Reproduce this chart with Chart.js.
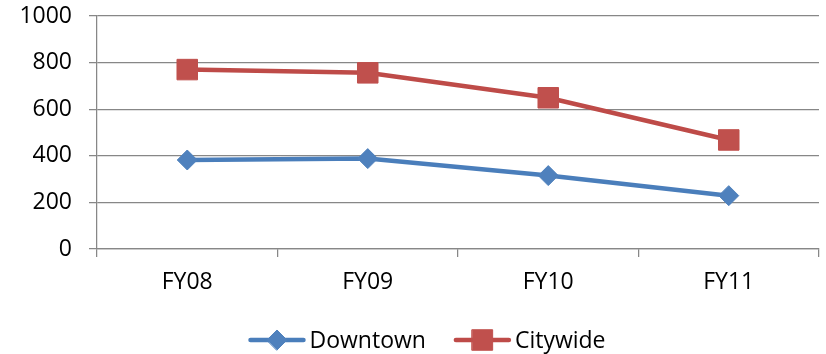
<!DOCTYPE html>
<html>
<head>
<meta charset="utf-8">
<script src="https://cdn.jsdelivr.net/npm/chart.js@4/dist/chart.umd.min.js"></script>
<style>
  html, body { margin: 0; padding: 0; background: #fff; }
</style>
</head>
<body>
<canvas id="chart" width="826" height="354"></canvas>
<script>
const years = ["FY08", "FY09", "FY10", "FY11"];
const downtown = [382, 388, 315, 229];
const citywide = [770, 756, 649, 468];
const yTicks = [0, 200, 400, 600, 800, 1000];

const axisGray = "#878787";
const fontFamily = "'Open Sans', 'Noto Sans', sans-serif";

const series = [
    {label: "Downtown", data: downtown, line: "#4A7EBB", fill: "#4F81BD", point: "rectRot", radius: 10},
    {label: "Citywide", data: citywide, line: "#BE4B48", fill: "#C0504D", point: "rect", radius: 14.5}
];

// legend drawn by hand: a short line with the marker in the middle, then the name
const lineLegend = {
    id: "lineLegend",
    afterDraw(chart) {
        const ctx = chart.ctx;
        const y = 340;
        const lineLen = 53;
        const gap = 6;
        const itemGap = 30;
        ctx.save();
        ctx.font = "23px " + fontFamily;
        const widths = series.map(s => lineLen + gap + ctx.measureText(s.label).width);
        const total = widths.reduce((a, b) => a + b, 0) + itemGap * (series.length - 1);
        let x = 428 - total / 2;
        series.forEach((s, i) => {
            ctx.strokeStyle = s.line;
            ctx.lineWidth = 4.5;
            ctx.lineCap = "round";
            ctx.beginPath();
            ctx.moveTo(x, y);
            ctx.lineTo(x + lineLen, y);
            ctx.stroke();
            ctx.fillStyle = s.fill;
            ctx.strokeStyle = s.fill;
            ctx.lineWidth = 1;
            Chart.helpers.drawPoint(ctx, {pointStyle: s.point, radius: s.radius, borderWidth: 1}, x + lineLen / 2, y);
            ctx.fillStyle = "#000";
            ctx.textBaseline = "middle";
            ctx.textAlign = "left";
            ctx.fillText(s.label, x + lineLen + gap, y + 1);
            x += widths[i] + itemGap;
        });
        ctx.restore();
    }
};

new Chart(document.getElementById("chart").getContext("2d"), {
    type: "line",
    data: {
        labels: years,
        datasets: series.map(s => ({
            label: s.label,
            data: s.data,
            borderColor: s.line,
            borderWidth: 4.5,
            backgroundColor: s.fill,
            pointBackgroundColor: s.fill,
            pointBorderColor: s.fill,
            pointBorderWidth: 1,
            pointStyle: s.point,
            pointRadius: s.radius,
            pointHoverRadius: s.radius,
            tension: 0,
            fill: false
        }))
    },
    options: {
        responsive: false,
        animation: false,
        devicePixelRatio: 1,
        layout: {
            autoPadding: false,
            padding: {left: 0, right: 7, top: 16, bottom: 0}
        },
        plugins: {
            legend: {display: false},
            tooltip: {enabled: false}
        },
        scales: {
            x: {
                offset: true,
                afterFit: axis => {
                    // plot bottom sits at y = 249
                    axis.height = 354 - 249;
                    axis.paddingLeft = 0;
                    axis.paddingRight = 0;
                },
                grid: {
                    offset: true,
                    drawOnChartArea: false,
                    drawTicks: true,
                    tickLength: 8,
                    color: axisGray,
                    lineWidth: 1.25
                },
                border: {color: axisGray, width: 1.25},
                ticks: {
                    color: "#000",
                    padding: 12,
                    font: {family: fontFamily, size: 23}
                }
            },
            y: {
                min: 0,
                max: 1000,
                afterBuildTicks: axis => {
                    axis.ticks = yTicks.map(v => ({value: v}));
                },
                afterFit: axis => {
                    // value axis line at x = 97
                    axis.width = 97;
                    axis.paddingTop = 0;
                    axis.paddingBottom = 0;
                },
                grid: {
                    color: axisGray,
                    lineWidth: 1.25,
                    tickLength: 8
                },
                border: {color: axisGray, width: 1.25},
                ticks: {
                    color: "#000",
                    padding: 17,
                    font: {family: fontFamily, size: 23},
                    callback: v => String(v)
                }
            }
        }
    },
    plugins: [lineLegend]
});
</script>
</body>
</html>
